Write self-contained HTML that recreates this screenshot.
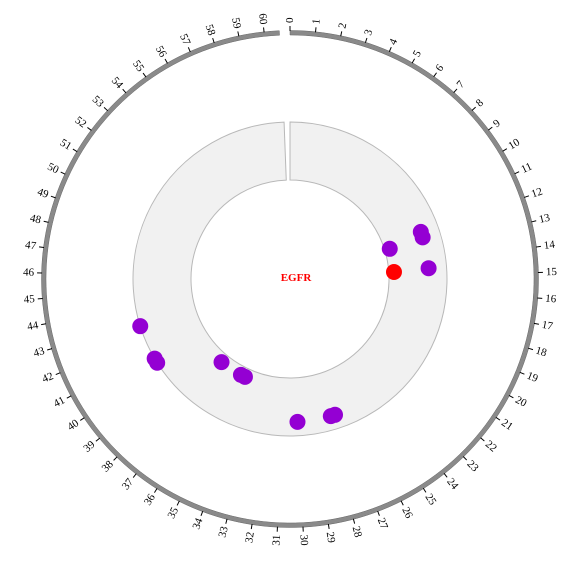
<!DOCTYPE html>
<html><head><meta charset="utf-8"><style>
html,body{margin:0;padding:0;background:#fff;}
svg{display:block;}
text{font-family:"Liberation Serif",serif;}
</style></head><body>
<svg id="chart" width="582" height="565" viewBox="0 0 582 565"></svg>
<script>
const tickValues = [0,1,2,3,4,5,6,7,8,9,10,11,12,13,14,15,16,17,18,19,20,21,22,23,24,25,26,27,28,29,30,31,32,33,34,35,36,37,38,39,40,41,42,43,44,45,46,47,48,49,50,51,52,53,54,55,56,57,58,59,60];
const pointPositions = [12.4,11.9,12.3,14.5,27.4,27.7,30.0,34.7,35.1,37.2,40.3,40.6,42.8];
const pointValues = [0.09,0.69,0.69,0.69,0.76,0.76,0.76,0.15,0.15,0.15,1.0,1.0,1.0];
const highlightPositions = [14.6];
const highlightValues = [0.09];
const geneLabel = "EGFR";

const NS="http://www.w3.org/2000/svg";
const svg=document.getElementById('chart');
const cx=290, cy=279;
const degPerUnit=5.9;
function angle(v){return v*degPerUnit*Math.PI/180;}
function rScale(y){return 99+y*58;}
function pt(a,r){return [cx+r*Math.sin(a), cy-r*Math.cos(a)];}
function arcPath(a0,a1,r0,r1){
  const large=(a1-a0)>Math.PI?1:0;
  const p1=pt(a0,r1),p2=pt(a1,r1),p3=pt(a1,r0),p4=pt(a0,r0);
  return `M${p1[0]},${p1[1]}A${r1},${r1} 0 ${large} 1 ${p2[0]},${p2[1]}L${p3[0]},${p3[1]}A${r0},${r0} 0 ${large} 0 ${p4[0]},${p4[1]}Z`;
}
function mk(tag,attrs){const e=document.createElementNS(NS,tag);for(const k in attrs)e.setAttribute(k,attrs[k]);svg.appendChild(e);return e;}

const ring=mk('path',{d:arcPath(angle(0),angle(60.6),244,248.5),fill:'#8a8a8a',stroke:'#666','stroke-width':0.5});



tickValues.forEach(v=>{
  const a=angle(v);
  const p0=pt(a,248),p1=pt(a,253);
  const l=mk('line',{x1:p0[0],y1:p0[1],x2:p1[0],y2:p1[1],stroke:'#000','stroke-width':1});
  
  
  const deg=v*degPerUnit;
  const tp=pt(a,256);
  const t=mk('text',{'font-size':11,'dominant-baseline':'central'});
  if(deg<=180){
    t.setAttribute('transform',`translate(${tp[0]},${tp[1]}) rotate(${deg-90})`);
    t.setAttribute('text-anchor','start');
  }else{
    t.setAttribute('transform',`translate(${tp[0]},${tp[1]}) rotate(${deg+90})`);
    t.setAttribute('text-anchor','end');
  }
  t.textContent=v;
  
  
});

const track=mk('path',{d:arcPath(angle(0),angle(60.65),99,157),fill:'#f1f1f1',stroke:'#b8b8b8','stroke-width':1});



pointPositions.forEach((v,i)=>{
  const p=pt(angle(v),rScale(pointValues[i]));
  const c=mk('circle',{cx:p[0],cy:p[1],r:8,fill:'#9400d3'});
  
  
});
highlightPositions.forEach((v,i)=>{
  const p=pt(angle(v),rScale(highlightValues[i]));
  const c=mk('circle',{cx:p[0],cy:p[1],r:8,fill:'#ff0000'});
  
  
});

const g=mk('text',{x:296,y:281,'font-size':11,'font-weight':'bold',fill:'#ff0000','text-anchor':'middle'});
g.textContent=geneLabel;


</script>
</body></html>
